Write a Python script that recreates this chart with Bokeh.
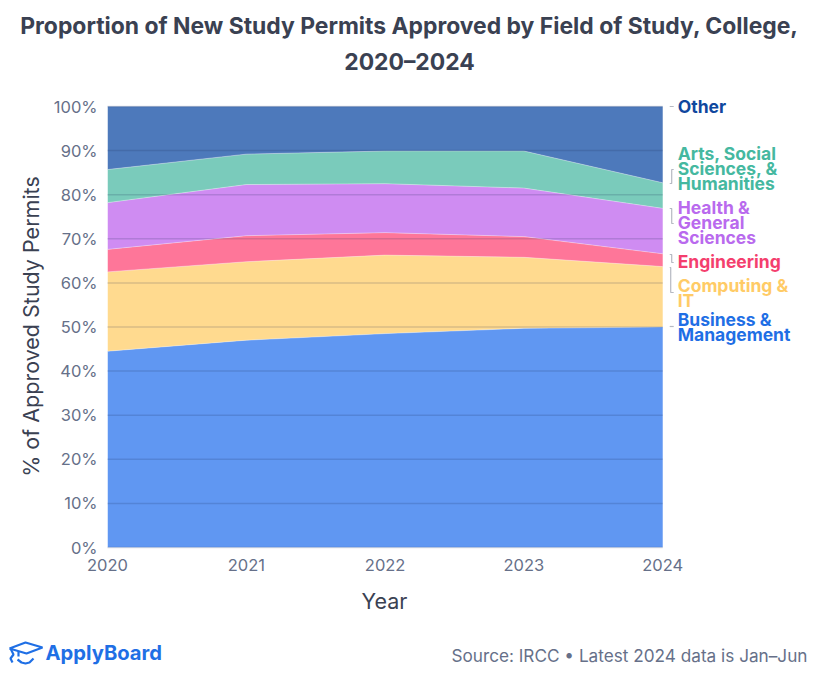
import math
from bokeh.plotting import figure
from bokeh.embed import file_html
from bokeh.resources import INLINE
from bokeh.layouts import column, row
from bokeh.models import Label, FixedTicker, PrintfTickFormatter, ColumnDataSource

FONT = "Inter"
years = [2020, 2021, 2022, 2023, 2024]
names = ["Business & Management", "Computing & IT", "Engineering",
         "Health & General Sciences", "Arts, Social Sciences, & Humanities", "Other"]
business = [44.5, 47.0, 48.5, 49.7, 50.0]
computing = [18.0, 17.8, 17.8, 16.1, 13.7]
engineering = [5.1, 5.9, 5.1, 4.7, 2.9]
health = [10.6, 11.6, 11.1, 11.0, 10.3]
arts = [7.5, 6.9, 7.4, 8.4, 5.8]
other = [14.3, 10.8, 10.1, 10.1, 17.3]
series_values = [business, computing, engineering, health, arts, other]
area_colors = ["#2B74ED", "#FFCE69", "#FE4877", "#BF65ED", "#4DB9A4", "#114CA4"]
text_colors = ["#1F6FE5", "#FFCB66", "#F43F6E", "#B96AEE", "#45B8A0", "#0F479E"]
yticks = list(range(0, 101, 10))
TITLE = "Proportion of New Study Permits Approved by Field of Study, College,\n2020\u20132024"
label_lines = ["Business &\nManagement", "Computing &\nIT", "Engineering",
               "Health &\nGeneral\nSciences", "Arts, Social\nSciences, &\nHumanities", "Other"]
label_tops = [308, 274, 250, 196, 142, 95]

W, H = 823, 681
L, R, T, B = 106, 662, 106, 547
HEAD, FOOT, SIDE = 85, 585, 50


def dx(px):
    return 2020 + (px - L) / (R - L) * 4


def dy(py):
    return (B - py) / (B - T) * 100


p = figure(width=W - SIDE, height=FOOT - HEAD, output_backend="svg", toolbar_location=None,
           x_range=(2020, dx(W)), y_range=(0, dy(HEAD)),
           min_border_left=L - SIDE, min_border_right=0, min_border_top=0,
           min_border_bottom=FOOT - B, outline_line_color=None, background_fill_color="white")

src = ColumnDataSource(dict(year=years, **{n: v for n, v in zip(names, series_values)}))
p.varea_stack(stackers=names, x="year", color=area_colors, fill_alpha=0.75, source=src)
running = [0] * len(years)
for vals in series_values[:-1]:
    running = [a + b for a, b in zip(running, vals)]
    p.line(years, running, line_color="white", line_alpha=0.35, line_width=1)

p.xgrid.visible = False
p.ygrid.visible = False
p.segment(x0=[years[0]] * len(yticks), x1=[years[-1]] * len(yticks), y0=yticks, y1=yticks,
          line_color="#1a2a55", line_alpha=0.17, line_width=1.5, level="overlay")

for ax in (p.xaxis[0], p.yaxis[0]):
    ax.major_tick_line_color = None
    ax.minor_tick_line_color = None
    ax.axis_line_color = None
    ax.major_label_text_font = FONT
    ax.major_label_text_font_size = "16.5px"
    ax.major_label_text_color = "#667089"
p.xaxis[0].ticker = FixedTicker(ticks=years)
p.yaxis[0].ticker = FixedTicker(ticks=yticks)
p.yaxis[0].formatter = PrintfTickFormatter(format="%d%%")
p.xaxis[0].major_label_standoff = 5
p.yaxis[0].major_label_standoff = 4


def strip(width, height, x0, y0, y1, bottom=0):
    f = figure(width=width, height=height, output_backend="svg", toolbar_location=None,
               x_range=(x0, x0 + width), y_range=(y1, y0), x_axis_location=None, y_axis_location=None,
               min_border=0, min_border_left=0, min_border_right=0, min_border_top=0,
               min_border_bottom=bottom, outline_line_color=None)
    f.grid.visible = False
    return f


head = strip(W, HEAD, 0, 0, HEAD)
foot = strip(W, H - FOOT, 0, FOOT, H)
side = strip(SIDE, FOOT - HEAD, 0, HEAD, B, bottom=FOOT - B)


def text(fig, x, y, s, size, color, align="left", style="normal", lh=1.0, baseline="top", angle=0):
    fig.add_layout(Label(x=x, y=y, text=s, text_font=FONT, text_font_size=f"{size}px",
                         text_color=color, text_align=align, text_baseline=baseline,
                         text_font_style=style, text_line_height=lh, angle=angle))


text(head, 409, 11, TITLE, 22.9, "#3A4152", align="center", style="bold", lh=1.32)
for s, top, col in zip(label_lines, label_tops, text_colors):
    text(p, dx(677), dy(top), s, 17.5, col, style="bold", lh=0.72)
text(side, 30, 326, "% of Approved Study Permits", 21.5, "#3A4152", align="center",
     baseline="middle", angle=math.pi / 2)
text(foot, 384, 587, "Year", 21.5, "#3A4152", align="center")
text(foot, 807, 644, "Source: IRCC \u2022 Latest 2024 data is Jan\u2013Jun", 17.2, "#667089", align="right")
text(foot, 45, 639, "ApplyBoard", 20.2, "#1F6FE5", style="bold")

brackets = [[(669, 106), (673, 106)],
            [(669, 183), (671, 183), (671, 169), (673, 169)],
            [(673, 223), (671, 223), (671, 208), (669, 208)],
            [(673, 262), (671, 262), (671, 254), (669, 254)],
            [(673, 292), (670, 292), (670, 267), (669, 267)],
            [(669, 326), (673, 326)]]
for b in brackets:
    p.line([dx(a) for a, _ in b], [dy(c) for _, c in b], line_color="#B5B9C2", line_width=1.2)

logo = "#1F6FE5"
logo_paths = [[(9, 648), (25, 642), (42, 647), (26, 653), (9, 648)],
              [(10, 648), (13, 654), (10, 658), (12, 662)],
              [(17, 659), (21, 662), (25, 663), (29, 662), (33, 658)],
              [(18, 651), (18, 656)]]
for path in logo_paths:
    foot.line([a for a, _ in path], [c for _, c in path], line_color=logo, line_width=2.2)

layout = column(row(head), row(side, p, spacing=0), row(foot), spacing=0)
open("out.html", "w").write(file_html(layout, INLINE))
